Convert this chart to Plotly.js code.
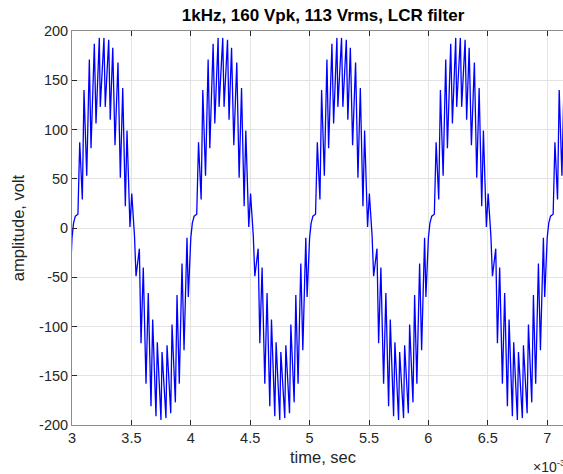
<!DOCTYPE html>
<html>
<head>
<meta charset="utf-8">
<script src="https://cdn.plot.ly/plotly-3.0.1.min.js"></script>
<style>
html,body{margin:0;padding:0;overflow:hidden;background:#fff;width:563px;height:474px;}
#chart{width:590px;height:474px;}
</style>
</head>
<body>
<div id="chart"></div>
<script>
// time in units of 1e-3 s, amplitude in volt
const time = [
  2.979,
  3.000,3.013,3.028,3.050,3.065,3.087,3.101,3.124,3.146,3.160,3.188,3.202,3.230,3.238,3.269,3.280,3.309,3.322,3.343,3.362,3.387,3.407,3.427,3.449,3.463,3.488,3.503,3.526,3.539,3.567,3.581,3.600,3.623,3.642,3.665,3.679,3.707,3.718,3.749,3.758,3.791,3.800,3.831,3.842,3.870,3.884,3.903,3.926,3.943,3.968,3.979,
  4.000,4.013,4.028,4.050,4.065,4.087,4.101,4.124,4.146,4.160,4.188,4.202,4.230,4.238,4.269,4.280,4.309,4.322,4.343,4.362,4.387,4.407,4.427,4.449,4.463,4.488,4.503,4.526,4.539,4.567,4.581,4.600,4.623,4.642,4.665,4.679,4.707,4.718,4.749,4.758,4.791,4.800,4.831,4.842,4.870,4.884,4.903,4.926,4.943,4.968,4.979,
  5.000,5.013,5.028,5.050,5.065,5.087,5.101,5.124,5.146,5.160,5.188,5.202,5.230,5.238,5.269,5.280,5.309,5.322,5.343,5.362,5.387,5.407,5.427,5.449,5.463,5.488,5.503,5.526,5.539,5.567,5.581,5.600,5.623,5.642,5.665,5.679,5.707,5.718,5.749,5.758,5.791,5.800,5.831,5.842,5.870,5.884,5.903,5.926,5.943,5.968,5.979,
  6.000,6.013,6.028,6.050,6.065,6.087,6.101,6.124,6.146,6.160,6.188,6.202,6.230,6.238,6.269,6.280,6.309,6.322,6.343,6.362,6.387,6.407,6.427,6.449,6.463,6.488,6.503,6.526,6.539,6.567,6.581,6.600,6.623,6.642,6.665,6.679,6.707,6.718,6.749,6.758,6.791,6.800,6.831,6.842,6.870,6.884,6.903,6.926,6.943,6.968,6.979,
  7.000,7.013,7.028,7.050,7.065,7.087,7.101,7.124,7.146,7.160,7.188,7.202,7.230,7.238,7.269,7.280
];
const volt = [
  -70,
  -10,5,12,14,87,29,140,53,171,81,187,106,193,123,193,123,191,110,183,84,168,51,142,22,99,1,35,-8,-49,-21,-117,-40,-158,-66,-181,-93,-191,-116,-195,-126,-193,-119,-188,-98,-177,-68,-158,-36,-124,-10,-70,
  -10,5,12,14,87,29,140,53,171,81,187,106,193,123,193,123,191,110,183,84,168,51,142,22,99,1,35,-8,-49,-21,-117,-40,-158,-66,-181,-93,-191,-116,-195,-126,-193,-119,-188,-98,-177,-68,-158,-36,-124,-10,-70,
  -10,5,12,14,87,29,140,53,171,81,187,106,193,123,193,123,191,110,183,84,168,51,142,22,99,1,35,-8,-49,-21,-117,-40,-158,-66,-181,-93,-191,-116,-195,-126,-193,-119,-188,-98,-177,-68,-158,-36,-124,-10,-70,
  -10,5,12,14,87,29,140,53,171,81,187,106,193,123,193,123,191,110,183,84,168,51,142,22,99,1,35,-8,-49,-21,-117,-40,-158,-66,-181,-93,-191,-116,-195,-126,-193,-119,-188,-98,-177,-68,-158,-36,-124,-10,-70,
  -10,5,12,14,87,29,140,53,171,81,187,106,193,123,193,123
];
const xTickVals = [3,3.5,4,4.5,5,5.5,6,6.5,7];
const xTickText = ["3","3.5","4","4.5","5","5.5","6","6.5","7"];
const yTickVals = [-200,-150,-100,-50,0,50,100,150,200];
const yTickText = ["-200","-150","-100","-50","0","50","100","150","200"];

const FONT = "Liberation Sans, Arial, Helvetica, sans-serif";
const INK = "#262626";

const trace = {
  x: time, y: volt, type: "scatter", mode: "lines",
  line: {color: "#0000ff", width: 1.3}, hoverinfo: "skip"
};

const axisCommon = {
  showline: true, linecolor: "#8c8c8c", linewidth: 1, mirror: "ticks",
  ticks: "inside", ticklen: 5, tickcolor: "#262626", tickwidth: 1,
  showgrid: true, gridcolor: "#e3e3e3", gridwidth: 1, zeroline: false,
  tickfont: {family: FONT, size: 14.5, color: INK}
};

const layout = {
  width: 590, height: 474,
  margin: {l: 72, r: 16, t: 31, b: 49},
  paper_bgcolor: "#ffffff", plot_bgcolor: "#ffffff",
  showlegend: false,
  title: {text: "<b>1kHz, 160 Vpk, 113 Vrms, LCR filter</b>",
          font: {family: FONT, size: 17, color: "#000"},
          x: 0.5, xref: "paper", xanchor: "center", y: 0.968, yref: "container", yanchor: "middle"},
  xaxis: Object.assign({}, axisCommon, {
    range: [3, 3 + (574 - 72) / 118.8], tickmode: "array",
    tickvals: xTickVals, ticktext: xTickText,
    title: {text: "time, sec", font: {family: FONT, size: 16.5, color: INK}, standoff: 6}
  }),
  yaxis: Object.assign({}, axisCommon, {
    range: [-200, 200], tickmode: "array",
    tickvals: yTickVals, ticktext: yTickText,
    title: {text: "amplitude, volt", font: {family: FONT, size: 16.5, color: INK}, standoff: 10}
  }),
  annotations: [{
    text: "×10<sup>-3</sup>", xref: "paper", yref: "paper",
    x: (531 - 72) / 502, y: (425 - 466) / 394, xanchor: "left", yanchor: "middle",
    showarrow: false, font: {family: FONT, size: 14, color: INK}
  }]
};

Plotly.newPlot("chart", [trace], layout, {staticPlot: true, displayModeBar: false});
</script>
</body>
</html>
